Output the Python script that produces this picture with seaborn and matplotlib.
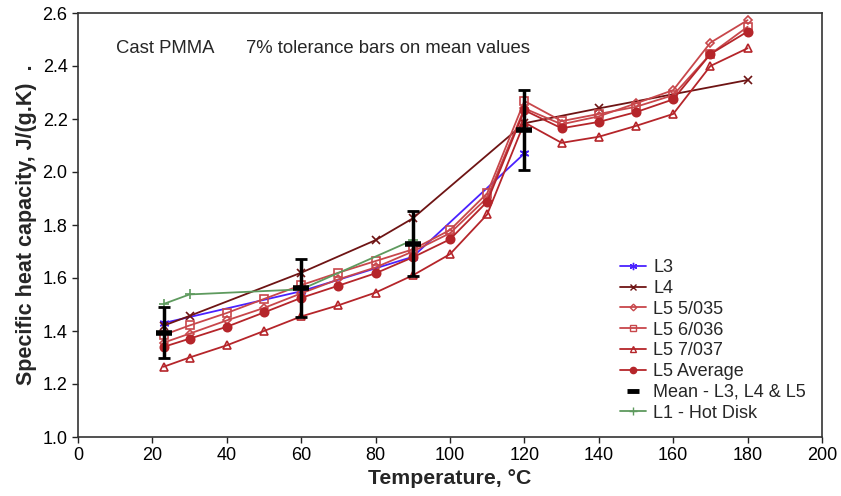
import numpy as np
import pandas as pd
import matplotlib
matplotlib.use("Agg")
import matplotlib.pyplot as plt
from matplotlib.lines import Line2D
import seaborn as sns

# ---- data ----
t_l3 = [23, 60, 90, 120]
cp_l3 = [1.43, 1.55, 1.68, 2.07]

t_l4 = [23, 30, 60, 80, 90, 120, 140, 180]
cp_l4 = [1.42, 1.457, 1.62, 1.743, 1.825, 2.184, 2.24, 2.347]

t_l5 = [23, 30, 40, 50, 60, 70, 80, 90, 100, 110, 120, 130, 140, 150, 160, 170, 180]
cp_l5_035 = [1.356, 1.39, 1.44, 1.487, 1.542, 1.595, 1.64, 1.70, 1.769, 1.903, 2.24, 2.18, 2.21, 2.259, 2.309, 2.488, 2.573]
cp_l5_036 = [1.385, 1.421, 1.468, 1.521, 1.573, 1.62, 1.664, 1.708, 1.781, 1.92, 2.268, 2.192, 2.219, 2.246, 2.29, 2.445, 2.548]
cp_l5_037 = [1.265, 1.30, 1.346, 1.40, 1.455, 1.497, 1.545, 1.61, 1.69, 1.84, 2.187, 2.11, 2.133, 2.174, 2.219, 2.40, 2.467]
cp_l5_avg = [1.34, 1.371, 1.416, 1.47, 1.525, 1.571, 1.618, 1.678, 1.746, 1.888, 2.233, 2.165, 2.189, 2.226, 2.274, 2.445, 2.53]

t_mean = [23, 60, 90, 120]
cp_mean = [1.394, 1.563, 1.73, 2.16]
tolerance = 0.07

t_l1 = [23, 30, 60, 90]
cp_l1 = [1.502, 1.538, 1.557, 1.743]

x_ticks = [0, 20, 40, 60, 80, 100, 120, 140, 160, 180, 200]
y_ticks = [1.0, 1.2, 1.4, 1.6, 1.8, 2.0, 2.2, 2.4, 2.6]

# ---- styling ----
sns.set_theme(style="ticks")
plt.rcParams['font.family'] = ['Liberation Sans', 'DejaVu Sans']

RED = "#b5252a"
RED_LIGHT = "#c8474b"
MAROON = "#6e1414"
BLUE = "#4a22ff"
GREEN = "#5e9a5e"

fig = plt.figure(figsize=(8.41, 4.96), dpi=100)
ax = fig.add_axes([78/841, 1-437/496, 744/841, 424/496])

series = [
    ("L3", t_l3, cp_l3, BLUE, (6, 2, 0), BLUE, 7),
    ("L4", t_l4, cp_l4, MAROON, "x", MAROON, 6),
    ("L5 5/035", t_l5, cp_l5_035, RED_LIGHT, "D", "none", 4.5),
    ("L5 6/036", t_l5, cp_l5_036, RED_LIGHT, "s", "none", 5.5),
    ("L5 7/037", t_l5, cp_l5_037, RED, "^", "none", 6),
    ("L5 Average", t_l5, cp_l5_avg, RED, "o", RED, 6),
    ("L1 - Hot Disk", t_l1, cp_l1, GREEN, "+", GREEN, 7),
]

handles = {}
for name, xs, ys, col, mk, fc, ms in series:
    df = pd.DataFrame({"T": xs, "cp": ys})
    sns.lineplot(data=df, x="T", y="cp", ax=ax, color=col, linewidth=1.3,
                 marker=mk, markersize=ms, markerfacecolor=fc,
                 markeredgecolor=col, markeredgewidth=1.2, legend=False)
    handles[name] = Line2D([0], [0], color=col, linewidth=1.3, marker=mk,
                           markersize=ms * 0.75, markerfacecolor=fc,
                           markeredgecolor=col, markeredgewidth=1.0)

# mean with 7% tolerance bars
cp_mean_arr = np.array(cp_mean)
ax.errorbar(t_mean, cp_mean, yerr=cp_mean_arr * tolerance, fmt="none",
            ecolor="black", elinewidth=2.5, capsize=4, capthick=2, zorder=5)
sns.scatterplot(x=t_mean, y=cp_mean, ax=ax, marker="_", s=130, color="black",
                linewidth=4, zorder=6, legend=False)
handles["Mean - L3, L4 & L5"] = Line2D([0], [0], color="black", linestyle="none",
                                       marker="_", markersize=8, markeredgewidth=3.5)

order = ["L3", "L4", "L5 5/035", "L5 6/036", "L5 7/037", "L5 Average",
         "Mean - L3, L4 & L5", "L1 - Hot Disk"]
leg = ax.legend([handles[k] for k in order], order, loc="lower right",
                bbox_to_anchor=(0.988, 0.019), frameon=False, fontsize=13,
                handlelength=1.45, labelspacing=0.21, handletextpad=0.4,
                borderaxespad=0.0)

ax.set_xlim(0, 200)
ax.set_ylim(1.0, 2.6)
ax.set_xticks(x_ticks)
ax.set_yticks(y_ticks)
ax.set_yticklabels([f"{v:.1f}" for v in y_ticks])
ax.tick_params(axis="both", labelsize=13, direction="out", length=4, width=1,
               colors="#222222", labelcolor="black")
for s in ax.spines.values():
    s.set_color("#333333")
    s.set_linewidth(1.2)

ax.set_xlabel("Temperature, °C", fontsize=15.3, fontweight="bold", labelpad=3)
ax.set_ylabel("Specific heat capacity, J/(g.K)  .", fontsize=15.5, fontweight="bold")

ax.text(10.2, 2.449, "Cast PMMA", fontsize=13.3, va="baseline")
ax.text(45.2, 2.449, "7% tolerance bars on mean values", fontsize=13.3, va="baseline")

fig.savefig("out.png", dpi=100)
